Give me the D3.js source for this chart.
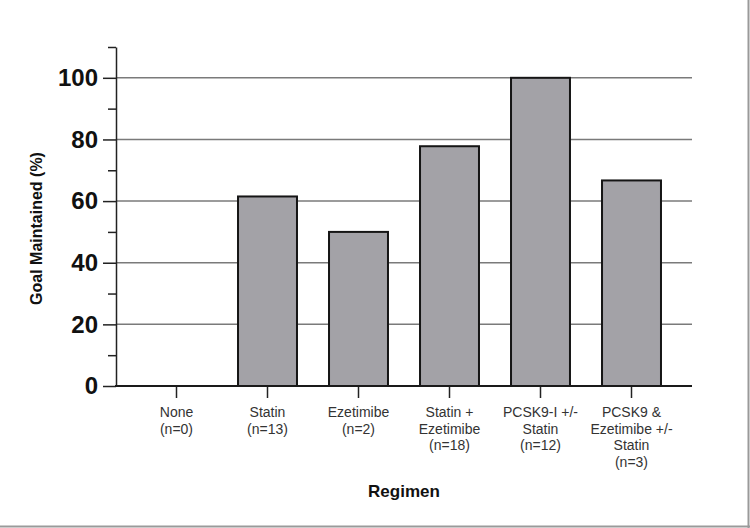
<!DOCTYPE html>
<html><head><meta charset="utf-8">
<script src="https://cdn.jsdelivr.net/npm/d3@7"></script>
<style>html,body{margin:0;padding:0;background:#fff}svg{display:block}</style>
</head><body>
<svg id="c" width="750" height="528"></svg>
<script>
const categories = [
  ["None", "(n=0)"],
  ["Statin", "(n=13)"],
  ["Ezetimibe", "(n=2)"],
  ["Statin +", "Ezetimibe", "(n=18)"],
  ["PCSK9-I +/-", "Statin", "(n=12)"],
  ["PCSK9 &", "Ezetimibe +/-", "Statin", "(n=3)"]
];
const values = [0, 61.5, 50, 77.8, 100, 66.7];
const yTicks = [0, 20, 40, 60, 80, 100];
const yMinorTicks = [10, 30, 50, 70, 90, 110];

const svg = d3.select("#c");
const x0 = 116, x1 = 692, yTop = 47, yBot = 386;
const y = d3.scaleLinear().domain([0, 110]).range([yBot, yTop]);
const x = d3.scaleBand().domain(d3.range(categories.length)).range([131, 677]).paddingInner(0.352).paddingOuter(0.176);

// frame lines
svg.append("line").attr("x1", 748.5).attr("x2", 748.5).attr("y1", 0).attr("y2", 528).attr("stroke", "#9a9a9a").attr("stroke-width", 2);
svg.append("line").attr("x1", 0).attr("x2", 750).attr("y1", 526.5).attr("y2", 526.5).attr("stroke", "#9a9a9a").attr("stroke-width", 2);

// gridlines
svg.append("g").selectAll("line").data(yTicks.filter(d => d > 0)).join("line")
  .attr("x1", x0).attr("x2", x1).attr("y1", d => y(d)).attr("y2", d => y(d))
  .attr("stroke", "#7a7a7a").attr("stroke-width", 1.5);

// bars
svg.append("g").selectAll("rect").data(values).join("rect")
  .attr("x", (d, i) => x(i)).attr("width", x.bandwidth())
  .attr("y", d => y(d)).attr("height", d => yBot - y(d))
  .attr("fill", "#a3a2a7").attr("stroke", "#151515").attr("stroke-width", 2)
  .attr("display", d => d > 0 ? null : "none");

// y axis
const yAxis = d3.axisLeft(y).tickValues(yTicks).tickSize(13).tickPadding(5).tickSizeOuter(0);
const gy = svg.append("g").attr("transform", `translate(${x0},0)`).call(yAxis);
gy.select(".domain").attr("stroke", "#222").attr("stroke-width", 1.5);
gy.selectAll(".tick line").attr("stroke", "#222").attr("stroke-width", 1.5);
gy.selectAll(".tick text").attr("font-family", "Liberation Sans, Arial, sans-serif")
  .attr("font-size", 24).attr("font-weight", "bold").attr("fill", "#111");
const yMinor = d3.axisLeft(y).tickValues(yMinorTicks).tickSize(8).tickFormat("");
const gym = svg.append("g").attr("transform", `translate(${x0},0)`).call(yMinor);
gym.select(".domain").remove();
gym.selectAll(".tick line").attr("stroke", "#222").attr("stroke-width", 1.5);

// x axis
const xAxis = d3.axisBottom(x).tickSize(12).tickSizeOuter(0).tickFormat("");
const gx = svg.append("g").attr("transform", `translate(0,${yBot})`).call(xAxis);
gx.select(".domain").remove();
gx.selectAll(".tick line").attr("stroke", "#222").attr("stroke-width", 1.5);
svg.append("line").attr("x1", x0 - 1).attr("x2", x1).attr("y1", yBot).attr("y2", yBot)
  .attr("stroke", "#1a1a1a").attr("stroke-width", 2);

// x labels
const lbl = svg.append("g").attr("font-family", "Liberation Sans, Arial, sans-serif")
  .attr("font-size", 14).attr("fill", "#333").attr("text-anchor", "middle");
categories.forEach((lines, i) => {
  const t = lbl.append("text").attr("x", x(i) + x.bandwidth() / 2).attr("y", 417);
  lines.forEach((s, j) => t.append("tspan").attr("x", x(i) + x.bandwidth() / 2).attr("dy", j ? 16.5 : 0).text(s));
});

// titles
svg.append("text").attr("x", (x0 + x1) / 2 - 0).attr("y", 497).attr("text-anchor", "middle")
  .attr("font-family", "Liberation Sans, Arial, sans-serif").attr("font-size", 17).attr("font-weight", "bold")
  .attr("fill", "#111").text("Regimen");
svg.append("text").attr("transform", `translate(42,${(yTop + yBot) / 2 + 12}) rotate(-90)`).attr("text-anchor", "middle")
  .attr("font-family", "Liberation Sans, Arial, sans-serif").attr("font-size", 16).attr("font-weight", "bold")
  .attr("fill", "#111").text("Goal Maintained (%)");
</script>
</body></html>
